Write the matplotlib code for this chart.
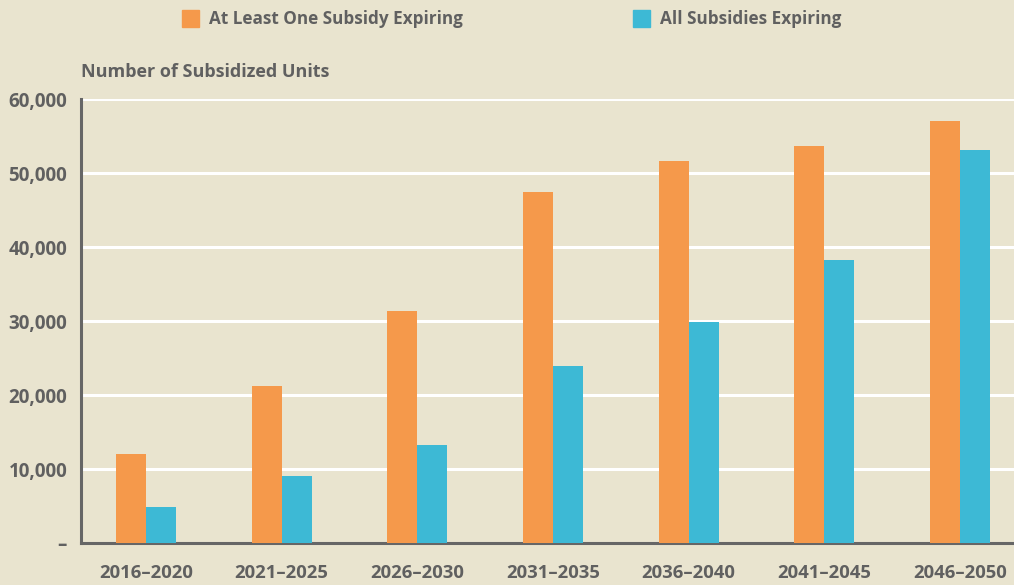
import matplotlib.pyplot as plt
import numpy as np

periods = ['2016–2020', '2021–2025', '2026–2030', '2031–2035',
           '2036–2040', '2041–2045', '2046–2050']
at_least_one = [12000, 21200, 31300, 47400, 51600, 53600, 57000]
all_expiring = [4900, 9050, 13200, 23900, 29900, 38200, 53100]
yticks = [0, 10000, 20000, 30000, 40000, 50000, 60000]
ytick_labels = ['–', '10,000', '20,000', '30,000', '40,000', '50,000', '60,000']

bg = '#e9e4cf'
orange = '#f5994b'
blue = '#3db9d5'
txt = '#606060'

plt.rcParams['font.family'] = ['Open Sans', 'DejaVu Sans']

fig = plt.figure(figsize=(10.14, 5.85), dpi=100)
fig.patch.set_facecolor(bg)
ax = fig.add_axes([81 / 1014, 42 / 585, 933 / 1014, 444 / 585])
ax.set_facecolor(bg)

x = np.arange(len(periods))
w = 0.221
ax.bar(x - w / 2, at_least_one, w, color=orange, zorder=3)
ax.bar(x + w / 2, all_expiring, w, color=blue, zorder=3)

ax.set_xlim(-0.479, 6.398)
ax.set_ylim(0, 60000)
ax.set_yticks(yticks)
ax.set_yticklabels(ytick_labels)
ax.set_xticks(x)
ax.set_xticklabels(periods)
ax.yaxis.grid(True, color='white', linewidth=2.2, zorder=1)
ax.set_axisbelow(True)

for s in ['top', 'right']:
    ax.spines[s].set_visible(False)
for s in ['left', 'bottom']:
    ax.spines[s].set_color('#666666')
    ax.spines[s].set_linewidth(2.2)
ax.tick_params(length=0, labelcolor=txt)
ax.tick_params(axis='y', pad=10, labelsize=13.5)
ax.tick_params(axis='x', pad=15, labelsize=13.3)
for lab in ax.get_xticklabels() + ax.get_yticklabels():
    lab.set_fontweight('bold')

fig.text(81 / 1014, 1 - 72 / 585, 'Number of Subsidized Units', fontsize=13,
         color=txt, fontweight='bold', va='center', ha='left')

# legend
for sx, col, label in [(182, orange, 'At Least One Subsidy Expiring'),
                       (633, blue, 'All Subsidies Expiring')]:
    fig.patches.append(plt.Rectangle((sx / 1014, 1 - 27 / 585), 17 / 1014, 17 / 585,
                                     transform=fig.transFigure, color=col, figure=fig))
    fig.text((sx + 27) / 1014, 1 - 18.5 / 585, label, fontsize=12.3, color=txt,
             fontweight='bold', va='center', ha='left')

fig.savefig('out.png', dpi=100, facecolor=bg)
